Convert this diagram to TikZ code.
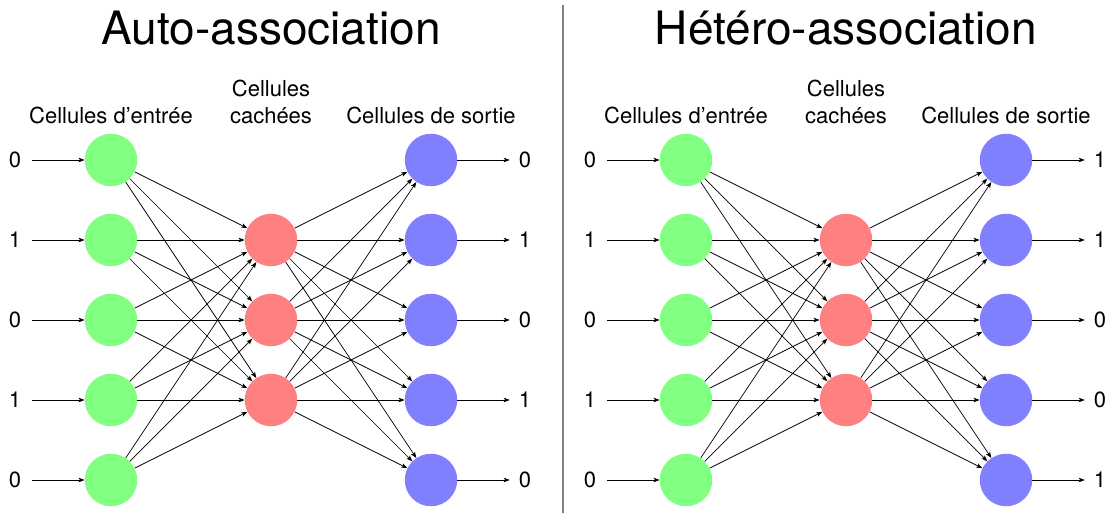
\documentclass[tikz,border=0pt]{standalone}
\usepackage{fontspec}
\setmainfont{TeX Gyre Heros}
\usetikzlibrary{arrows.meta}

\tikzset{
	cell/.style={circle, minimum size=52.5pt, inner sep=0pt},
	incell/.style={cell, fill=green!50},
	hidcell/.style={cell, fill=red!50},
	outcell/.style={cell, fill=blue!50},
	conn/.style={-{Stealth[length=6pt,width=4.5pt,inset=1.5pt]}, line width=0.7pt},
	val/.style={inner sep=0pt, font=\fontsize{22}{26}\selectfont},
	lab/.style={inner sep=0pt, anchor=south, align=center, font=\fontsize{22}{27}\selectfont},
	ttl/.style={inner sep=0pt, anchor=base, font=\fontsize{46}{50}\selectfont},
}

\begin{document}
\begin{tikzpicture}[x=1pt,y=-1pt]
	\useasboundingbox (0,0) rectangle (1107,513);
	\draw [gray, line width=1.3pt] (563,5) -- (563,513);

	% titles
	\node [ttl] (attl) at (271,45) {Auto-association};
	\node [ttl] (bttl) at (846,45) {Hétéro-association};

	\foreach \p/\dx in {a/0,b/575}{
		% layer labels
		\node [lab] (\p inlab) at (111+\dx,124) {Cellules d’entrée};
		\node [lab] (\p hidlab) at (271+\dx,124) {Cellules\\cachées};
		\node [lab] (\p outlab) at (431+\dx,124) {Cellules de sortie};
		
		% cells
		\foreach \i in {1,...,5}{
			\node [incell] (\p in\i) at (111+\dx,80*\i+80) {};
			\node [outcell] (\p out\i) at (431+\dx,80*\i+80) {};
		}
		\foreach \j in {1,2,3}
			\node [hidcell] (\p hid\j) at (271+\dx,80*\j+160) {};
		
		% connections
		\foreach \i in {1,...,5}
			\foreach \j in {1,2,3}{
				\draw [conn] (\p in\i) -- (\p hid\j);
				\draw [conn] (\p hid\j) -- (\p out\i);
			}
		
		% input values
		\foreach \v [count=\i] in {0,1,0,1,0}{
			\node [val] (\p x\i) at (15+\dx,80*\i+80) {\v};
			\draw [conn, shorten <=11pt] (\p x\i) -- (\p in\i);
		}
	}
	
	% output values
	\foreach \v [count=\i] in {0,1,0,1,0}{
		\node [val] (ay\i) at (525,80*\i+80) {\v};
		\draw [conn, shorten >=9pt] (aout\i) -- (ay\i);
	}
	\foreach \v [count=\i] in {1,1,0,0,1}{
		\node [val] (by\i) at (1100,80*\i+80) {\v};
		\draw [conn, shorten >=9pt] (bout\i) -- (by\i);
	}
\end{tikzpicture}
\end{document}
